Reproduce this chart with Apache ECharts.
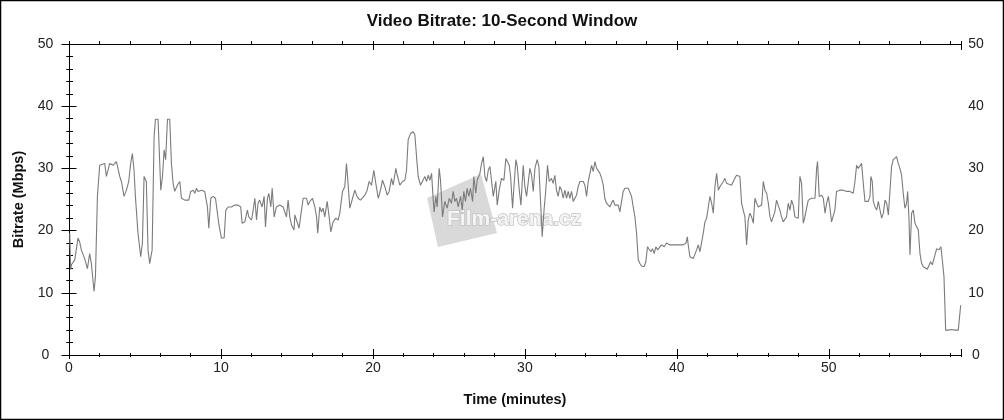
<!DOCTYPE html>
<html><head><meta charset="utf-8">
<script src="https://cdn.jsdelivr.net/npm/echarts@6/dist/echarts.min.js"></script>
<style>html,body{margin:0;padding:0;background:#fff}#c{width:1004px;height:420px}</style>
</head><body><div id="c"></div>
<script>
const titleText = 'Video Bitrate: 10-Second Window';
const xAxisName = 'Time (minutes)';
const yAxisName = 'Bitrate (Mbps)';
const watermarkText = 'Film-arena.cz';
const xMin = 0, xMax = 58.7, xMajor = 10, xMinor = 2;
const yMin = 0, yMax = 50, yMajor = 10;

// time (minutes)
const timeMinutes = [
0.05,0.11,0.16,0.38,0.59,0.70,0.81,1.03,1.21,1.36,1.47,1.65,1.74,1.87,2.02,2.13,2.35,2.46,2.57,2.68,
2.90,3.12,3.23,3.34,3.45,3.62,3.78,3.93,4.06,4.17,4.28,4.37,4.54,4.72,4.83,4.94,5.09,5.20,5.31,5.47,
5.60,5.69,5.86,5.93,6.04,6.15,6.26,6.36,6.48,6.63,6.74,6.85,6.96,7.13,7.29,7.40,7.62,7.73,7.88,8.01,
8.17,8.28,8.39,8.49,8.60,8.71,8.93,9.11,9.20,9.33,9.48,9.64,9.77,9.85,10.03,10.21,10.32,10.47,10.69,10.91,
11.13,11.30,11.39,11.57,11.74,11.83,12.01,12.12,12.23,12.34,12.44,12.55,12.71,12.84,12.93,13.06,13.15,13.28,13.37,13.50,
13.65,13.87,14.09,14.20,14.31,14.42,14.53,14.64,14.81,14.86,14.97,15.14,15.30,15.41,15.63,15.74,15.85,16.02,16.11,16.18,
16.29,16.37,16.50,16.61,16.72,16.83,16.99,17.12,17.23,17.38,17.56,17.71,17.82,18.00,18.15,18.26,18.33,18.48,18.66,18.81,
18.92,19.03,19.18,19.31,19.47,19.62,19.75,19.91,20.06,20.19,20.35,20.50,20.63,20.78,20.94,21.07,21.22,21.33,21.51,21.60,
21.77,21.95,22.10,22.21,22.32,22.47,22.65,22.76,22.87,22.98,23.13,23.26,23.42,23.53,23.64,23.75,23.86,23.97,24.03,24.14,
24.23,24.36,24.45,24.58,24.73,24.89,25.02,25.17,25.28,25.39,25.50,25.61,25.77,25.88,25.98,26.09,26.20,26.31,26.42,26.56,
26.64,26.77,26.86,27.04,27.15,27.26,27.37,27.48,27.59,27.70,27.81,27.92,28.09,28.18,28.31,28.46,28.62,28.75,28.84,28.97,
29.06,29.19,29.28,29.41,29.50,29.63,29.74,29.89,30.00,30.11,30.22,30.33,30.44,30.55,30.66,30.81,30.92,31.05,31.14,31.27,
31.36,31.49,31.60,31.75,31.86,31.97,32.08,32.19,32.30,32.41,32.52,32.63,32.74,32.85,32.96,33.07,33.18,33.29,33.40,33.51,
33.62,33.73,33.84,33.95,34.06,34.17,34.28,34.39,34.50,34.61,34.72,34.83,34.94,35.05,35.16,35.26,35.37,35.48,35.59,35.70,
35.81,35.92,36.03,36.14,36.25,36.36,36.47,36.58,36.80,36.91,37.02,37.13,37.24,37.35,37.46,37.57,37.68,37.85,37.96,38.07,
38.18,38.29,38.40,38.51,38.62,38.73,38.84,38.99,39.17,39.32,39.54,39.76,39.98,40.20,40.42,40.60,40.69,40.75,40.86,40.97,
41.08,41.19,41.30,41.41,41.52,41.63,41.74,41.85,41.96,42.07,42.18,42.29,42.40,42.51,42.62,42.73,42.84,42.95,43.06,43.16,
43.27,43.38,43.60,43.71,43.82,43.93,44.04,44.15,44.26,44.37,44.48,44.59,44.70,44.81,44.92,45.03,45.14,45.25,45.36,45.47,
45.58,45.69,45.80,45.91,46.02,46.13,46.23,46.34,46.45,46.56,46.67,46.78,46.89,47.00,47.11,47.22,47.33,47.44,47.55,47.66,
47.77,47.88,47.99,48.10,48.21,48.32,48.43,48.54,48.65,48.76,48.87,48.98,49.09,49.20,49.26,49.37,49.53,49.64,49.75,49.86,
49.97,50.07,50.18,50.29,50.40,50.51,50.73,50.95,51.17,51.39,51.61,51.72,51.83,51.94,52.05,52.16,52.27,52.38,52.49,52.60,
52.71,52.77,52.86,52.93,53.04,53.15,53.26,53.37,53.48,53.59,53.70,53.81,53.92,54.03,54.13,54.24,54.35,54.46,54.57,54.68,
54.79,54.90,55.01,55.12,55.19,55.28,55.34,55.45,55.56,55.67,55.78,55.89,56.00,56.11,56.22,56.33,56.48,56.61,56.70,56.81,
56.94,57.10,57.25,57.38,57.49,57.58,57.69,57.87,58.08,58.30,58.52,58.63,58.68
];

// bitrate (Mbps)
const bitrateMbps = [
19.6,13.7,14.5,15.3,18.8,18.2,16.9,15.5,13.9,16.3,14.7,10.2,12.6,25.5,30.5,30.8,30.8,28.7,28.9,30.8,
30.5,31.1,30.8,28.7,27.9,25.5,26.5,27.9,30.8,32.4,29.7,25.5,19.6,15.8,18.0,28.7,27.9,16.9,14.7,16.9,
35.1,37.9,37.9,33.5,26.5,28.7,33.0,31.4,37.9,37.9,30.8,27.6,26.3,27.3,27.9,25.2,24.9,25.2,24.9,26.3,
26.5,26.0,26.8,26.3,26.0,26.5,26.3,23.8,20.4,25.2,25.5,25.2,24.9,21.2,18.8,18.8,23.3,23.8,23.8,24.1,
24.1,23.8,21.2,21.4,23.3,22.2,21.7,23.3,25.2,21.7,24.4,24.9,23.8,25.5,20.6,25.2,26.0,23.8,26.8,22.2,
23.8,24.1,23.8,24.1,22.2,24.9,22.2,20.9,20.1,22.5,21.7,20.4,23.3,25.2,25.2,24.1,24.7,25.2,25.3,23.8,
22.2,19.6,23.8,23.0,23.6,22.2,24.7,22.2,19.8,21.4,22.0,21.7,22.8,26.3,27.1,30.8,28.7,23.6,25.2,26.5,
25.7,25.2,24.9,24.7,25.7,26.5,27.9,27.3,29.7,27.6,25.2,26.5,28.1,27.1,25.7,26.3,28.4,27.3,30.0,28.9,
27.3,27.9,28.1,29.7,34.6,35.6,35.9,35.4,31.9,28.7,27.3,27.1,28.7,27.9,28.9,28.1,29.2,24.9,23.0,25.5,
23.8,30.0,28.1,22.2,24.7,23.6,25.2,24.4,26.3,24.7,25.2,23.8,25.5,23.3,26.3,24.7,26.8,25.5,26.8,24.7,
28.7,26.0,28.1,29.2,30.8,31.9,28.7,27.9,29.7,30.3,27.9,25.5,27.9,24.1,26.5,28.4,28.1,31.6,31.9,30.5,
28.7,23.6,27.1,31.4,30.3,26.5,24.1,30.5,27.1,25.5,25.2,30.0,28.9,26.3,30.0,31.4,30.3,23.8,19.0,23.6,
26.0,30.5,27.9,28.4,27.6,28.9,26.5,25.5,27.1,26.5,25.2,26.5,25.2,26.3,25.2,26.3,24.7,24.4,25.7,27.1,
27.9,28.1,27.9,27.3,25.5,27.9,29.2,30.5,29.5,31.1,30.0,29.7,29.2,28.4,27.3,25.2,24.4,24.7,23.8,24.4,
24.9,24.1,23.8,24.1,23.0,22.8,26.3,26.8,26.8,26.5,25.5,23.8,22.2,19.6,15.3,14.7,14.3,14.2,15.0,17.4,
17.7,16.6,17.1,16.3,17.4,16.9,17.1,17.7,17.4,18.0,17.7,17.7,17.7,17.7,17.7,18.0,19.0,17.7,15.8,16.1,
15.5,15.8,16.9,17.7,16.6,16.3,19.6,21.4,22.0,23.8,25.5,24.4,22.8,27.1,29.2,26.5,27.1,27.3,27.9,28.4,
27.6,27.6,27.3,27.3,28.4,28.9,29.2,28.7,24.4,23.3,22.2,17.7,21.7,22.8,22.2,21.2,25.2,24.4,23.8,24.1,
24.1,27.9,26.5,26.0,24.4,22.2,21.4,21.4,23.0,24.9,24.7,23.3,22.2,21.4,21.7,22.2,24.4,23.3,24.9,24.1,
22.2,22.2,22.0,28.7,27.6,21.2,22.2,23.6,24.9,24.7,25.2,24.9,25.2,30.0,31.1,25.5,25.7,25.2,22.8,24.4,
25.5,23.8,21.4,21.4,23.3,26.3,26.5,26.5,26.3,26.3,26.0,27.9,30.5,30.0,30.0,30.8,27.6,24.7,24.9,24.7,
25.5,28.7,27.9,24.7,23.8,23.3,24.7,23.3,22.0,22.8,24.9,24.4,22.5,26.5,30.3,31.4,31.4,31.9,30.8,30.0,
28.9,26.0,23.6,24.4,26.3,21.7,16.1,22.8,23.3,21.2,21.4,20.1,16.3,14.7,14.2,13.9,13.8,14.5,15.0,14.5,
14.7,17.1,16.9,17.4,17.1,12.6,4.0,4.0,4.1,4.0,4.0,4.0,8.0
];

const FONT = 'Liberation Sans, Arial, sans-serif';
const black = '#000';
const lineBlack = {show: true, lineStyle: {color: black, width: 1}};

function xAx(o) {
  return Object.assign({
    type: 'value', min: xMin, max: xMax, interval: xMajor, position: 'bottom',
    splitLine: {show: false}, minorSplitLine: {show: false},
    axisLine: {show: false}, axisLabel: {show: false},
    axisTick: {show: false}, minorTick: {show: false}
  }, o);
}
function yAx(o) {
  return Object.assign({
    type: 'value', min: yMin, max: yMax, interval: yMajor, position: 'left',
    splitLine: {show: false}, minorSplitLine: {show: false},
    axisLine: {show: false}, axisLabel: {show: false},
    axisTick: {show: false}, minorTick: {show: false}
  }, o);
}
const tick = (inside, length) => ({show: true, inside: inside, length: length, lineStyle: {color: black, width: 1}});
const minor = (length) => ({show: true, splitNumber: 5, length: length, lineStyle: {color: black, width: 1}});

const chart = echarts.init(document.getElementById('c'), null, {renderer: 'canvas'});
chart.setOption({
  animation: false,
  backgroundColor: '#fff',
  title: {
    text: titleText, left: 'center', top: 11, padding: 0,
    textStyle: {fontFamily: FONT, fontSize: 17, fontWeight: 'bold', color: '#111', lineHeight: 20}
  },
  grid: {left: 69, right: 43, top: 44, bottom: 65, containLabel: false},
  xAxis: [
    xAx({axisLine: lineBlack, axisTick: tick(false, 4),
      axisLabel: {show: true, margin: 6, fontFamily: FONT, fontSize: 14, color: '#222', showMaxLabel: false},
      name: xAxisName, nameLocation: 'middle', nameGap: 37,
      nameTextStyle: {fontFamily: FONT, fontSize: 14.5, fontWeight: 'bold', color: '#111'}}),
    xAx({axisTick: tick(true, 6)}),
    xAx({interval: xMinor, axisTick: tick(false, 2)}),
    xAx({interval: xMinor, axisTick: tick(true, 2)}),
    xAx({position: 'top', axisLine: lineBlack, axisTick: tick(true, 6)}),
    xAx({position: 'top', interval: xMinor, axisTick: tick(false, 3)})
  ],
  yAxis: [
    yAx({axisLine: lineBlack, axisTick: tick(false, 6), minorTick: minor(2.5),
      axisLabel: {show: true, margin: 23.5, align: 'center', fontFamily: FONT, fontSize: 14, color: '#222'},
      name: yAxisName, nameLocation: 'middle', nameGap: 43, nameRotate: 90,
      nameTextStyle: {fontFamily: FONT, fontSize: 14.5, fontWeight: 'bold', color: '#111'}}),
    yAx({axisTick: tick(true, 7.5), minorTick: minor(4)}),
    yAx({position: 'right', axisLine: lineBlack, axisTick: tick(false, 6), minorTick: minor(2.5),
      axisLabel: {show: true, margin: 15, align: 'center', fontFamily: FONT, fontSize: 14, color: '#222'}}),
    yAx({position: 'right', axisTick: tick(true, 7.5), minorTick: minor(2.5)})
  ],
  graphic: [
    {type: 'rect', z: 100, shape: {x: 0.5, y: 0.5, width: 1003, height: 419},
      style: {fill: 'none', stroke: '#000', lineWidth: 1.5}},
    {type: 'polygon', z: 0, shape: {points: [[427, 198], [481, 174], [497, 233], [438, 247]]},
      style: {fill: '#d9d9d9'}},
    {type: 'text', z: 1, x: 447, y: 209,
      style: {text: watermarkText, fontFamily: FONT, fontSize: 21, fontWeight: 'bold',
        fill: '#f4f4f4', stroke: '#c4c4c4', lineWidth: 1.5}}
  ],
  series: [{
    type: 'line', xAxisIndex: 0, yAxisIndex: 0, showSymbol: false, symbol: 'none', z: 5,
    lineStyle: {color: '#7b7b7b', width: 1.1},
    data: timeMinutes.map((t, i) => [t, bitrateMbps[i]])
  }]
});
</script></body></html>
